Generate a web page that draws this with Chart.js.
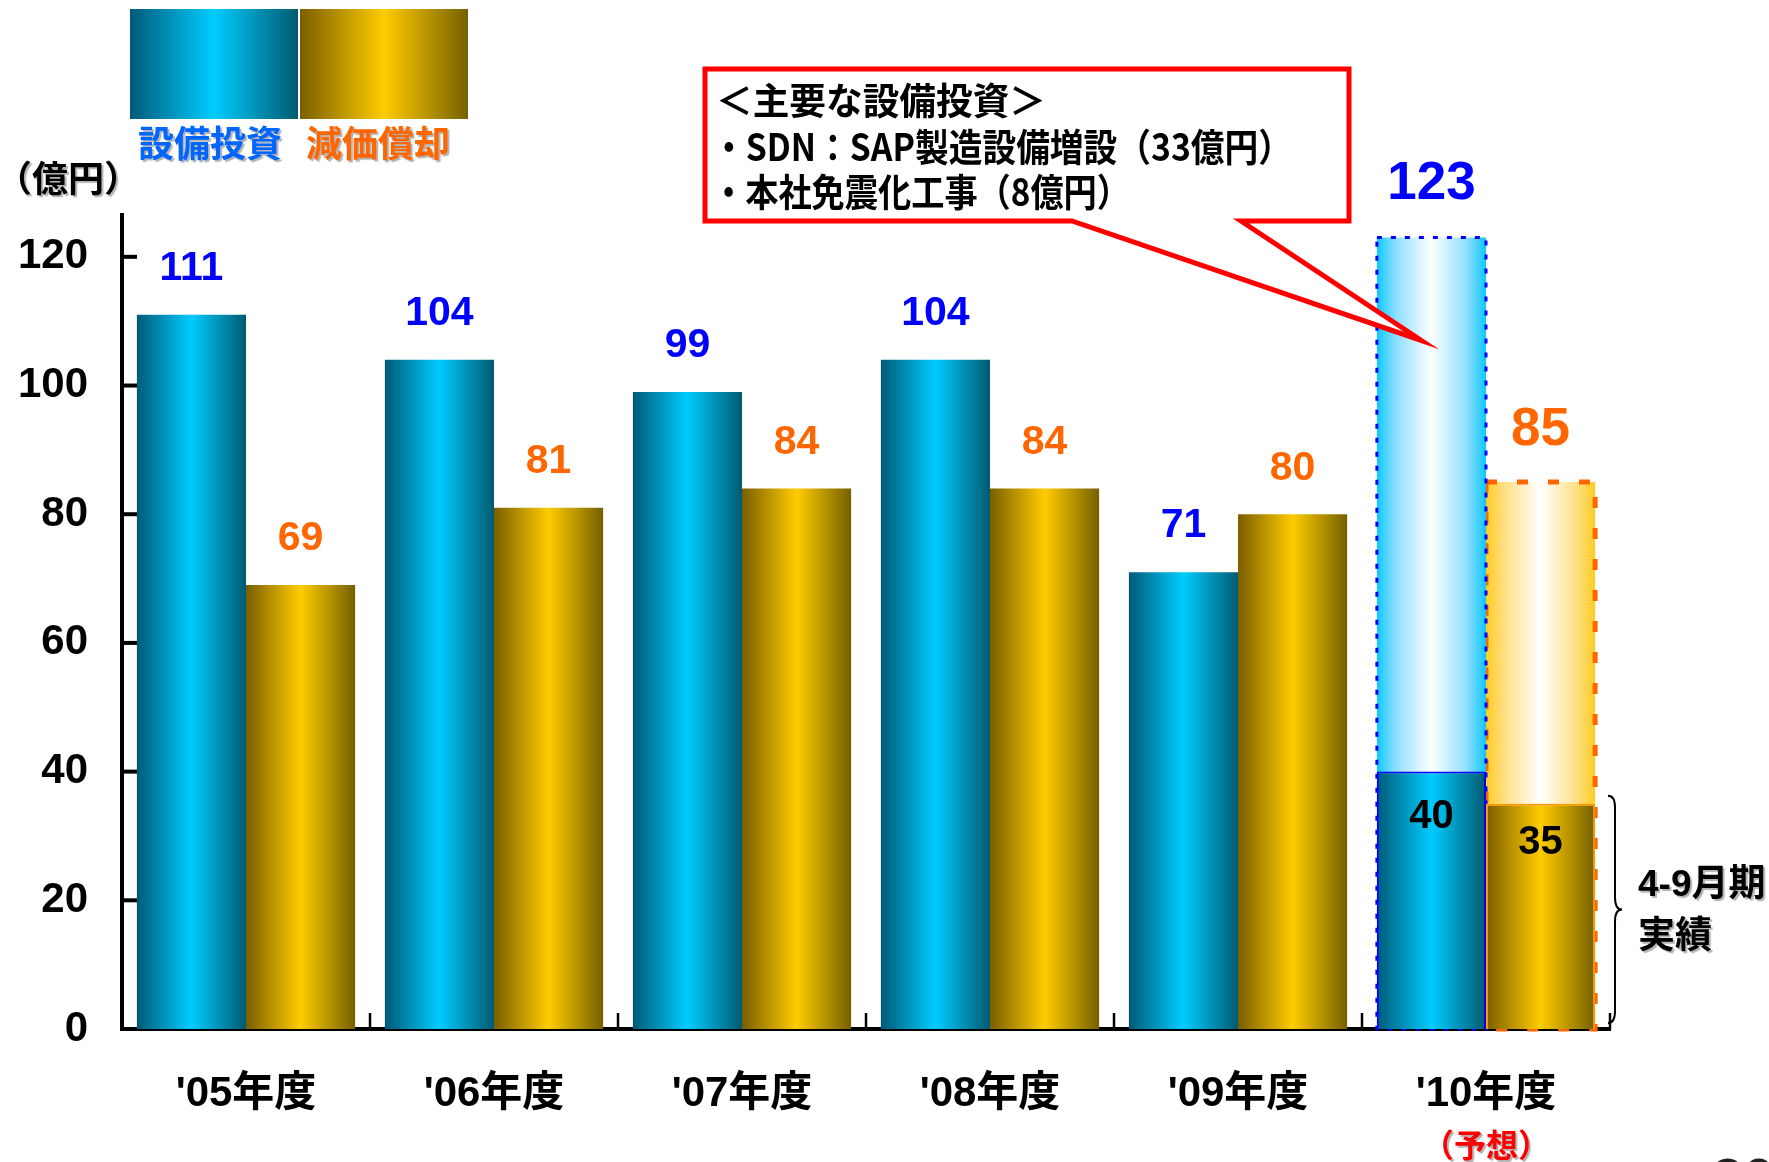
<!DOCTYPE html>
<html lang="ja">
<head>
<meta charset="utf-8">
<title>設備投資・減価償却</title>
<script src="https://cdn.jsdelivr.net/npm/chart.js@4.4.1/dist/chart.umd.min.js"></script>
<style>
  html, body { margin: 0; padding: 0; background: #fff; }
  #wrap { width: 1769px; height: 1162px; }
</style>
</head>
<body>
<div id="wrap"><canvas id="chart" width="1769" height="1162"></canvas></div>
<script>
const years = ["'05年度", "'06年度", "'07年度", "'08年度", "'09年度", "'10年度"];
// '10年度 in capex/depreciation is the 4-9月期 actual, forecast kept separately
const capex = [111, 104, 99, 104, 71, 40];
const depreciation = [69, 81, 84, 84, 80, 35];
const capexForecast = [null, null, null, null, null, 123];
const depForecast = [null, null, null, null, null, 85];
const yTicks = [0, 20, 40, 60, 80, 100, 120];
const yMax = 126.5;

const FONT = "'Liberation Sans', 'Noto Sans CJK JP', sans-serif";
const CJK = "'Noto Sans CJK JP', 'Liberation Sans', sans-serif";
const CAT_PCT = 0.88;

const BLUE = [[0, '#005a78'], [0.5, '#00ccff'], [1, '#005a70']];
const GOLD = [[0, '#7a5e00'], [0.5, '#ffcc00'], [1, '#756000']];
const BLUE_LIGHT = [[0, '#10c8ff'], [0.18, '#8fdfff'], [0.5, '#ffffff'], [0.82, '#8fdfff'], [1, '#10c8ff']];
const GOLD_LIGHT = [[0, '#ffcc22'], [0.18, '#ffe08a'], [0.5, '#ffffff'], [0.82, '#ffe08a'], [1, '#ffcc22']];

// horizontal gradient across one bar, position taken from the x scale
function barGradient(c, stops, side) {
  const chart = c.chart;
  const xs = chart.scales.x;
  const fallback = stops[Math.floor(stops.length / 2)][1];
  if (!xs) return fallback;
  const center = xs.getPixelForValue(c.dataIndex);
  const half = xs.width / years.length * CAT_PCT / 2;
  if (!isFinite(center) || !half) return fallback;
  const x0 = side === 0 ? center - half : center;
  const g = chart.ctx.createLinearGradient(x0, 0, x0 + half, 0);
  stops.forEach(([o, col]) => g.addColorStop(o, col));
  return g;
}

function hGrad(ctx, x, w, stops) {
  const g = ctx.createLinearGradient(x, 0, x + w, 0);
  stops.forEach(([o, col]) => g.addColorStop(o, col));
  return g;
}

function txt(ctx, s, x, y, font, color, align, shadow, maxW) {
  ctx.save();
  ctx.font = font;
  ctx.fillStyle = color;
  ctx.textAlign = align || 'center';
  ctx.textBaseline = 'middle';
  if (shadow) {
    ctx.shadowColor = 'rgba(0,0,0,0.3)';
    ctx.shadowOffsetX = 2;
    ctx.shadowOffsetY = 2;
    ctx.shadowBlur = 1;
  }
  if (maxW) ctx.fillText(s, x, y, maxW); else ctx.fillText(s, x, y);
  ctx.restore();
}

// dashed outline of the forecast bars (under the actual bars)
const forecastOutline = {
  id: 'forecastOutline',
  afterDatasetDraw(chart, args) {
    if (args.index !== 2 && args.index !== 3) return;
    const ctx = chart.ctx;
    const src = args.index === 2 ? capexForecast : depForecast;
    args.meta.data.forEach((el, i) => {
      if (src[i] == null) return;
      const { x, y, base, width } = el.getProps(['x', 'y', 'base', 'width'], true);
      ctx.save();
      if (args.index === 2) {
        ctx.strokeStyle = '#0000ff'; ctx.lineWidth = 3; ctx.setLineDash([5, 9]);
      } else {
        ctx.strokeStyle = '#ff6600'; ctx.lineWidth = 5; ctx.setLineDash([11, 20]);
      }
      ctx.strokeRect(x - width / 2, y, width, base - y);
      ctx.restore();
    });
  }
};

const valueLabels = {
  id: 'valueLabels',
  afterDatasetsDraw(chart) {
    const ctx = chart.ctx;
    const big = 'bold 41px ' + FONT;
    const huge = 'bold 53px ' + FONT;
    chart.getDatasetMeta(0).data.forEach((el, i) => {
      if (capexForecast[i] != null) {
        txt(ctx, String(capex[i]), el.x, el.y + 45, 'bold 40px ' + FONT, '#000');
      } else {
        txt(ctx, String(capex[i]), el.x, el.y - 46, big, '#0000ff');
      }
    });
    chart.getDatasetMeta(1).data.forEach((el, i) => {
      if (depForecast[i] != null) {
        txt(ctx, String(depreciation[i]), el.x, el.y + 39, 'bold 40px ' + FONT, '#000');
      } else {
        txt(ctx, String(depreciation[i]), el.x, el.y - 46, big, '#ff6600');
      }
    });
    chart.getDatasetMeta(2).data.forEach((el, i) => {
      if (capexForecast[i] == null) return;
      txt(ctx, String(capexForecast[i]), el.x, el.y - 53, huge, '#0000ff');
    });
    chart.getDatasetMeta(3).data.forEach((el, i) => {
      if (depForecast[i] == null) return;
      txt(ctx, String(depForecast[i]), el.x, el.y - 52, huge, '#ff6600');
    });
  }
};

const decor = {
  id: 'decor',
  afterDraw(chart) {
    const ctx = chart.ctx;
    const xs = chart.scales.x, ys = chart.scales.y;
    const area = chart.chartArea;

    // ticks pointing into the plot
    ctx.save();
    ctx.strokeStyle = '#000';
    ctx.lineWidth = 4;
    yTicks.forEach(v => {
      if (v === 0) return;
      const y = ys.getPixelForValue(v);
      ctx.beginPath(); ctx.moveTo(area.left, y); ctx.lineTo(area.left + 15, y); ctx.stroke();
    });
    ctx.lineWidth = 2.5;
    const step = xs.width / years.length;
    for (let k = 1; k <= years.length; k++) {
      const x = xs.left + step * k;
      ctx.beginPath(); ctx.moveTo(x, area.bottom); ctx.lineTo(x, area.bottom - 16); ctx.stroke();
    }
    ctx.restore();

    // legend boxes
    ctx.save();
    ctx.fillStyle = hGrad(ctx, 130, 168, BLUE);
    ctx.fillRect(130, 9, 168, 110);
    ctx.fillStyle = hGrad(ctx, 300, 168, GOLD);
    ctx.fillRect(300, 9, 168, 110);
    ctx.restore();
    txt(ctx, '設備投資', 210, 143, 'bold 36px ' + CJK, '#0066ff', 'center', true);
    txt(ctx, '減価償却', 378, 143, 'bold 36px ' + CJK, '#ff6600', 'center', true);
    txt(ctx, '（億円）', -4, 178, 'bold 36px ' + CJK, '#000', 'left', true);

    // forecast note under the last category
    const last = years.length - 1;
    txt(ctx, '（予想）', xs.getPixelForValue(last), 1145, 'bold 32px ' + CJK, '#ff0000', 'center', true);

    // brace for the 4-9月期 actual
    const depEl = chart.getDatasetMeta(1).data[last];
    const top = depEl.y - 8, bot = area.bottom - 6;
    const mid = (top + bot) / 2;
    const bx = xs.right - 2, w = 14, r = 12;
    ctx.save();
    ctx.strokeStyle = '#000';
    ctx.lineWidth = 2;
    ctx.beginPath();
    ctx.moveTo(bx, top);
    ctx.quadraticCurveTo(bx + w / 2, top, bx + w / 2, top + r);
    ctx.lineTo(bx + w / 2, mid - r);
    ctx.quadraticCurveTo(bx + w / 2, mid, bx + w, mid);
    ctx.quadraticCurveTo(bx + w / 2, mid, bx + w / 2, mid + r);
    ctx.lineTo(bx + w / 2, bot - r);
    ctx.quadraticCurveTo(bx + w / 2, bot, bx, bot);
    ctx.stroke();
    ctx.restore();
    txt(ctx, '4-9月期', 1638, 886, 'bold 37px ' + FONT, '#000', 'left', true);
    txt(ctx, '実績', 1638, 934, 'bold 37px ' + CJK, '#000', 'left', true);

    // callout with pointer towards the forecast capex bar
    const capEl = chart.getDatasetMeta(2).data[last];
    const tipX = capEl.x - 10, tipY = ys.getPixelForValue(107);
    const L = 705, T = 69, R = 1349, B = 221;
    ctx.save();
    ctx.beginPath();
    ctx.moveTo(L, T);
    ctx.lineTo(R, T);
    ctx.lineTo(R, B);
    ctx.lineTo(1241, B);
    ctx.lineTo(tipX, tipY);
    ctx.lineTo(1072, B);
    ctx.lineTo(L, B);
    ctx.closePath();
    ctx.fillStyle = '#fff';
    ctx.fill();
    ctx.strokeStyle = '#ff0000';
    ctx.lineWidth = 5;
    ctx.lineJoin = 'miter';
    ctx.stroke();
    ctx.restore();
    txt(ctx, '＜主要な設備投資＞', 716, 101, 'bold 37px ' + CJK, '#000', 'left', false, 330);
    txt(ctx, '・SDN：SAP製造設備増設（33億円）', 712, 147, 'bold 38px ' + CJK, '#000', 'left', false, 580);
    txt(ctx, '・本社免震化工事（8億円）', 712, 192, 'bold 38px ' + CJK, '#000', 'left', false, 418);

    // slide page number, cut by the bottom edge
    txt(ctx, '30', 1712, 1182, '56px ' + FONT, '#222', 'left');
  }
};

new Chart(document.getElementById('chart'), {
  type: 'bar',
  data: {
    labels: years,
    datasets: [
      {
        label: '設備投資', data: capex, stack: 'capex',
        backgroundColor: c => barGradient(c, BLUE, 0),
        borderColor: '#0000ff',
        borderWidth: c => (capexForecast[c.dataIndex] != null ? 2 : 0)
      },
      {
        label: '減価償却', data: depreciation, stack: 'dep',
        backgroundColor: c => barGradient(c, GOLD, 1),
        borderColor: '#ff9900',
        borderWidth: c => (depForecast[c.dataIndex] != null ? 2 : 0)
      },
      {
        label: '設備投資（予想）', data: capexForecast, stack: 'capex',
        backgroundColor: c => barGradient(c, BLUE_LIGHT, 0),
        borderWidth: 0
      },
      {
        label: '減価償却（予想）', data: depForecast, stack: 'dep',
        backgroundColor: c => barGradient(c, GOLD_LIGHT, 1),
        borderWidth: 0
      }
    ]
  },
  options: {
    responsive: false,
    animation: false,
    categoryPercentage: CAT_PCT,
    barPercentage: 1.0,
    layout: { padding: { top: 215, right: 159, left: 0, bottom: 0 } },
    plugins: {
      legend: { display: false },
      tooltip: { enabled: false }
    },
    scales: {
      x: {
        stacked: true,
        z: 1,
        grid: { display: false, drawTicks: false },
        border: { display: true, color: '#000', width: 4 },
        ticks: { color: '#000', padding: 40, font: { family: FONT, size: 42, weight: 'bold' } },
        afterFit: s => { s.height = 133; }
      },
      y: {
        stacked: false,
        z: 1,
        min: 0,
        max: yMax,
        afterBuildTicks: s => { s.ticks = yTicks.map(v => ({ value: v })); },
        grid: { display: false, drawTicks: false },
        border: { display: true, color: '#000', width: 4 },
        ticks: { color: '#000', padding: 34, font: { family: FONT, size: 42, weight: 'bold' } },
        afterFit: s => { s.width = 122; }
      }
    }
  },
  plugins: [forecastOutline, valueLabels, decor]
});
</script>
</body>
</html>
